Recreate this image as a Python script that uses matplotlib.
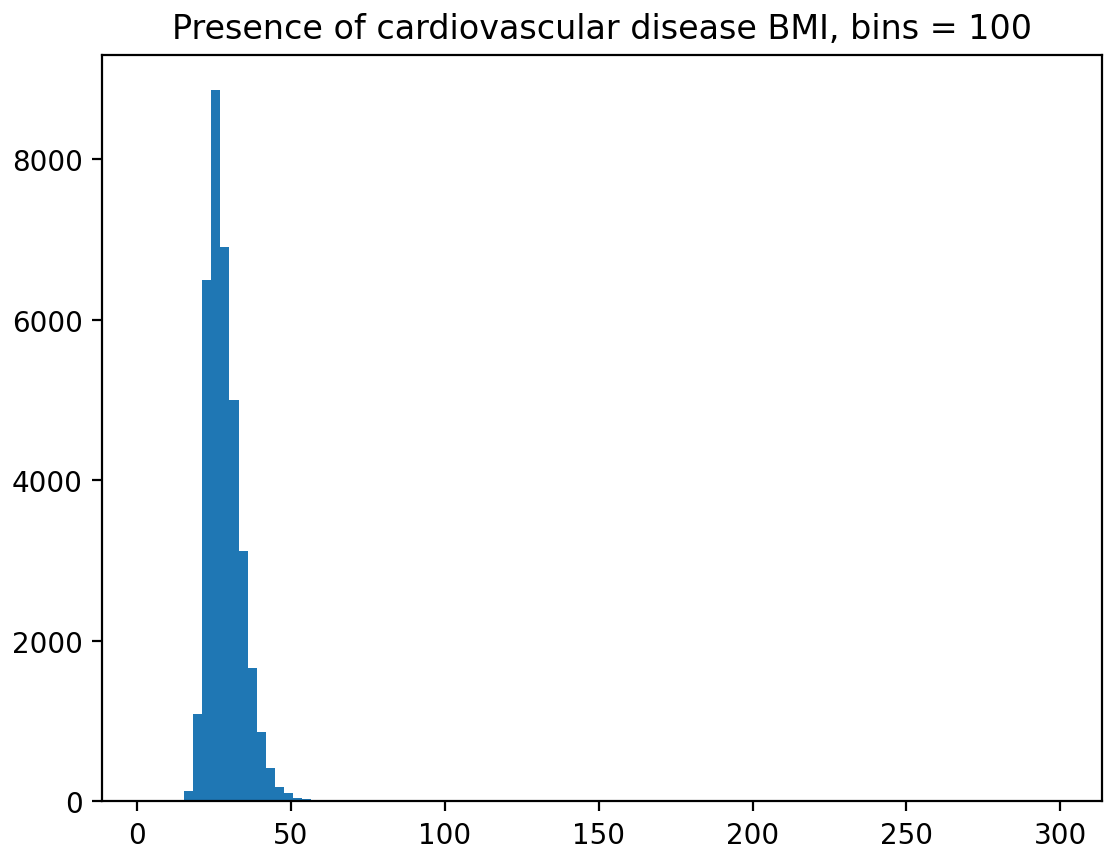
import numpy as np
import matplotlib
matplotlib.use('Agg')
from matplotlib import pyplot as plt

# BMI range of the data and number of bins
bmi_min = 3.47
bmi_max = 298.67
n_bins = 100

# counts per bin (first 20 bins), rest are (almost) empty
counts_head = [0, 1, 0, 0, 132, 1090, 6496, 8863, 6903, 5004,
               3126, 1659, 862, 410, 174, 103, 46, 25, 10, 5]
counts_tail_ones = [22, 30, 45, 60, 99]   # bins with a single count far out

counts = np.zeros(n_bins)
counts[:len(counts_head)] = counts_head
counts[counts_tail_ones] = 1

edges = np.linspace(bmi_min, bmi_max, n_bins + 1)
centers = (edges[:-1] + edges[1:]) / 2

fig = plt.figure(figsize=(1109 / 200, 854 / 200), dpi=200)
ax = fig.add_axes([102.3 / 1109, (854 - 802.3) / 854,
                   (1101.7 - 102.3) / 1109, (802.3 - 55.7) / 854])
ax.hist(centers, bins=edges, weights=counts)
ax.set_title('Presence of cardiovascular disease BMI, bins = 100')

fig.savefig('out.png', dpi=200)
